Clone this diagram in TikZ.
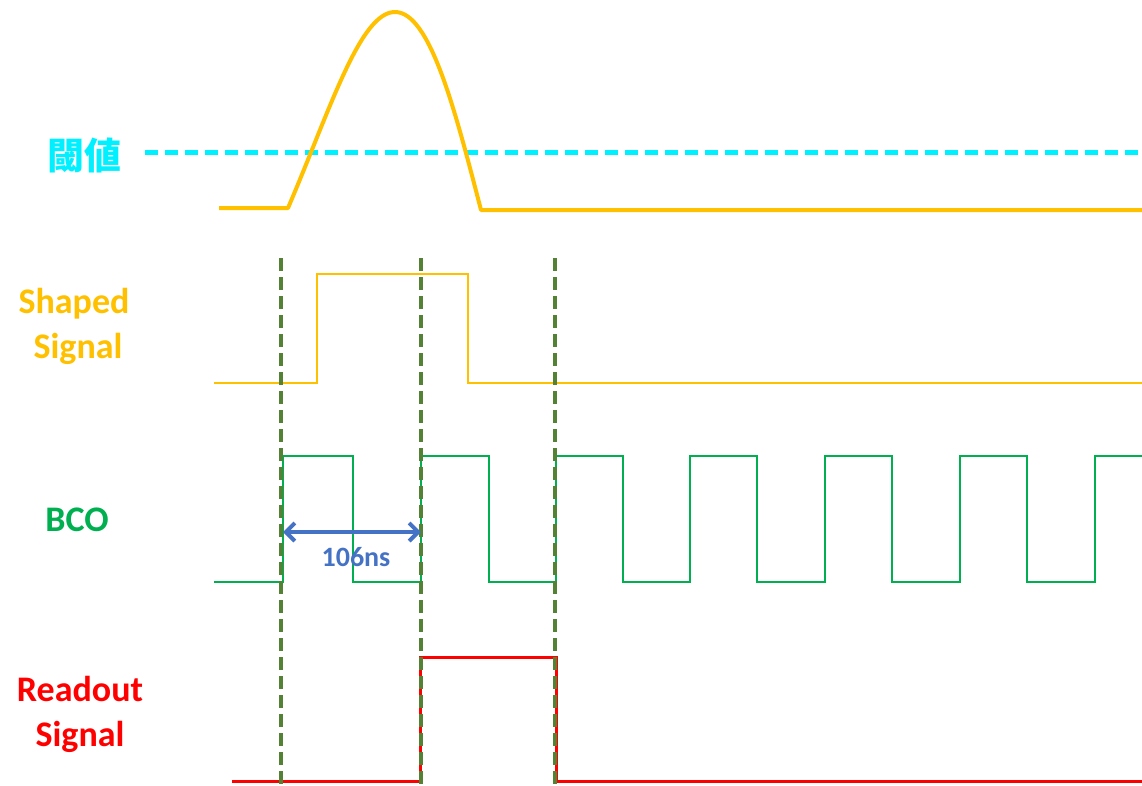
\documentclass[tikz,border=0pt]{standalone}
\usepackage{fontspec}
\setmainfont{Carlito}
\newfontfamily\cjk{Noto Sans CJK SC}
\usetikzlibrary{arrows.meta}
\definecolor{cyanT}{HTML}{00F0FF}
\definecolor{yel}{HTML}{FFC000}
\definecolor{bcog}{HTML}{00B050}
\definecolor{dgreen}{HTML}{548235}
\definecolor{redS}{HTML}{FF0000}
\definecolor{blueA}{HTML}{4472C4}
\begin{document}
\begin{tikzpicture}[x=1pt,y=-1pt,
  lbl/.style={font=\bfseries\fontsize{36}{45}\selectfont, align=center, inner sep=0pt},
  guide/.style={draw=dgreen, line width=4pt, dash pattern=on 13pt off 6pt},
  wave/.style={line width=2.5pt, line join=miter}]
\useasboundingbox (0,0) rectangle (1142,785);
% threshold
\node[lbl, text=cyanT, font=\cjk\bfseries\fontsize{37}{40}\selectfont] (thr) at (84,155) {閾値};
\coordinate (thrA) at (145,152);
\coordinate (thrB) at (1142,152);
\draw[draw=cyanT, line width=5pt, dash pattern=on 13pt off 7pt] (thrA) -- (thrB);
% pulse
\coordinate (p0) at (219,208);
\coordinate (p1) at (288,208);
\coordinate (pk) at (395,12);
\coordinate (p2) at (481,210);
\coordinate (p3) at (1142,210);
\draw[draw=yel, line width=4pt, line join=round] (p0) -- (p1)
  .. controls (330,110) and (360,12) .. (pk)
  .. controls (430,12) and (455,110) .. (p2) -- (p3);
% guides
\coordinate (g1a) at (281,258); \coordinate (g1b) at (281,785);
\coordinate (g2a) at (421,258); \coordinate (g2b) at (421,785);
\coordinate (g3a) at (555,258); \coordinate (g3b) at (555,785);
% shaped
\node[lbl, text=yel] (shp) at (74,326) {Shaped\\\hspace*{8pt}Signal};
\draw[wave, draw=yel] (214,383) -- (317,383) -- (317,274) -- (468,274) -- (468,383) -- (1142,383);
% BCO
\node[lbl, text=bcog] (bco) at (77,520) {BCO};
\draw[wave, draw=bcog] (214,582) -- (283,582) -- (283,456) -- (353,456) -- (353,582)
  -- (421,582) -- (421,456) -- (489,456) -- (489,582)
  -- (556,582) -- (556,456) -- (623,456) -- (623,582)
  -- (690,582) -- (690,456) -- (757,456) -- (757,582)
  -- (825,582) -- (825,456) -- (892,456) -- (892,582)
  -- (960,582) -- (960,456) -- (1027,456) -- (1027,582)
  -- (1095,582) -- (1095,456) -- (1142,456);
% readout
\node[lbl, text=redS] (rd) at (80,714) {Readout\\Signal};
\draw[line width=3pt, draw=redS] (232,781) -- (420,781) -- (420,657) -- (556,657) -- (556,781) -- (1142,781);
% guides on top
\draw[guide] (g1a) -- (g1b);
\draw[guide] (g2a) -- (g2b);
\draw[guide] (g3a) -- (g3b);
% arrow
\coordinate (aL) at (283,532);
\coordinate (aR) at (421,532);
\draw[draw=blueA, line width=4pt, {Straight Barb[length=9pt,width=18pt,line width=4pt]}-{Straight Barb[length=9pt,width=18pt,line width=4pt]}] (aL) -- (aR);
\node[text=blueA, font=\bfseries\fontsize{28}{30}\selectfont, inner sep=0pt] (ns) at (356,557) {106ns};
\end{tikzpicture}
\end{document}
